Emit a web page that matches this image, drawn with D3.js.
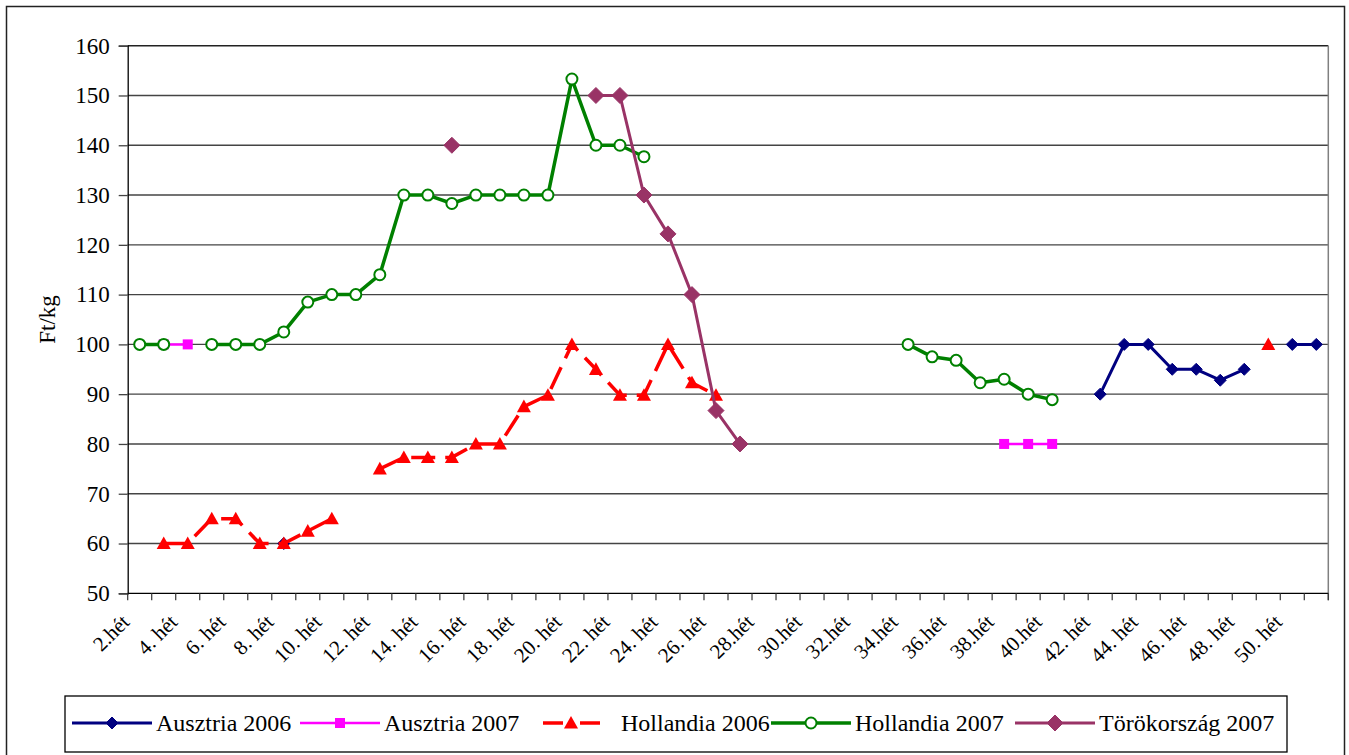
<!DOCTYPE html>
<html>
<head>
<meta charset="utf-8">
<script src="https://cdn.jsdelivr.net/npm/d3@7"></script>
<style>
  html, body { margin: 0; padding: 0; background: #fff; }
  svg { display: block; }
  text { font-family: "Liberation Serif", "Times New Roman", serif; fill: #000; }
</style>
</head>
<body>
<svg id="chart" width="1349" height="755"></svg>
<script>
// ---- data ----
const categories = [
  "2.hét","3.hét","4. hét","5. hét","6. hét","7. hét","8. hét","9. hét","10. hét","11. hét",
  "12. hét","13. hét","14. hét","15. hét","16. hét","17. hét","18. hét","19. hét","20. hét","21. hét",
  "22. hét","23. hét","24. hét","25. hét","26. hét","27. hét","28.hét","29.hét","30.hét","31.hét",
  "32.hét","33.hét","34.hét","35.hét","36.hét","37.hét","38.hét","39.hét","40.hét","41.hét",
  "42. hét","43. hét","44. hét","45. hét","46. hét","47. hét","48. hét","49. hét","50. hét","51. hét"
];
const yTicks = [50, 60, 70, 80, 90, 100, 110, 120, 130, 140, 150, 160];
const yTitle = "Ft/kg";

const ausztria2006 = [
  null,null,null,null,null,null,60,null,null,null,
  null,null,null,null,null,null,null,null,null,null,
  null,null,null,null,null,null,null,null,null,null,
  null,null,null,null,null,null,null,null,null,null,
  90,100,100,95,95,92.8,95,null,100,100
];
const ausztria2007 = [
  null,100,100,null,null,null,null,null,null,null,
  null,null,null,null,null,null,null,null,null,null,
  null,null,null,null,null,null,null,null,null,null,
  null,null,null,null,null,null,80,80,80,null,
  null,null,null,null,null,null,null,null,null,null
];
const hollandia2006 = [
  null,60,60,65,65,60,60,62.5,65,null,
  75,77.3,77.3,77.3,80,80,87.5,89.8,100,95,
  89.8,89.8,100,92.3,89.8,null,null,null,null,null,
  null,null,null,null,null,null,null,null,null,null,
  null,null,null,null,null,null,null,100,null,null
];
const hollandia2007 = [
  100,100,null,100,100,100,102.5,108.5,110,110,
  114,130,130,128.3,130,130,130,130,153.3,140,
  140,137.7,null,null,null,null,null,null,null,null,
  null,null,100,97.5,96.8,92.3,93,90,88.9,null,
  null,null,null,null,null,null,null,null,null,null
];
const torokorszag2007 = [
  null,null,null,null,null,null,null,null,null,null,
  null,null,null,140,null,null,null,null,null,150,
  150,130,122.2,110,86.7,80,null,null,null,null,
  null,null,null,null,null,null,null,null,null,null,
  null,null,null,null,null,null,null,null,null,null
];
const seriesNames = ["Ausztria 2006", "Ausztria 2007", " Hollandia 2006", "Hollandia 2007", "Törökország 2007"];

// ---- styles ----
const series = [
  { name: seriesNames[0], values: ausztria2006, color: "#000080", width: 3, dash: null, marker: "diamond", size: 12 },
  { name: seriesNames[1], values: ausztria2007, color: "#FF00FF", width: 2.5, dash: null, marker: "square", size: 10 },
  { name: seriesNames[2], values: hollandia2006, color: "#FF0000", width: 3.5, dash: "24,10", marker: "triangle", size: 14 },
  { name: seriesNames[3], values: hollandia2007, color: "#008000", width: 3.5, dash: null, marker: "circle", size: 13 },
  { name: seriesNames[4], values: torokorszag2007, color: "#993366", width: 3, dash: null, marker: "diamond", size: 16 }
];

const svg = d3.select("#chart");
const plot = { left: 127.7, right: 1328.3, top: 45.7, bottom: 593.3 };

// outer border
svg.append("rect").attr("x", 6.5).attr("y", 6.5).attr("width", 1338).attr("height", 760)
  .attr("fill", "#fff").attr("stroke", "#222").attr("stroke-width", 1.5);

const x = d3.scaleBand().domain(categories).range([plot.left, plot.right]).padding(0);
const y = d3.scaleLinear().domain([50, 160]).range([plot.bottom, plot.top]);
const cx = c => x(c) + x.bandwidth() / 2;

// gridlines
svg.append("g").selectAll("line").data(yTicks.filter(v => v > 50)).join("line")
  .attr("x1", plot.left).attr("x2", plot.right)
  .attr("y1", d => y(d)).attr("y2", d => y(d))
  .attr("stroke", d => d === 160 ? "#222" : "#444").attr("stroke-width", 1.4);

// right border of plot
svg.append("line").attr("x1", plot.right).attr("x2", plot.right)
  .attr("y1", plot.top).attr("y2", plot.bottom + 7)
  .attr("stroke", "#808080").attr("stroke-width", 1.5);

// y axis
const yAxis = d3.axisLeft(y).tickValues(yTicks).tickSize(9).tickPadding(9).tickFormat(d3.format("d"));
const gy = svg.append("g").attr("transform", `translate(${plot.left},0)`).call(yAxis);
gy.select(".domain").attr("stroke", "#000").attr("stroke-width", 1.3);
gy.selectAll(".tick line").attr("stroke", "#444").attr("stroke-width", 1.3);
gy.selectAll(".tick text").attr("font-size", 23).attr("font-family", "Liberation Serif, serif").attr("fill", "#000");

// x axis line and ticks (category boundaries)
svg.append("line").attr("x1", plot.left).attr("x2", plot.right)
  .attr("y1", plot.bottom).attr("y2", plot.bottom).attr("stroke", "#000").attr("stroke-width", 1.3);
const boundaries = categories.map(c => x(c)).concat([plot.right]);
svg.append("g").selectAll("line").data(boundaries).join("line")
  .attr("x1", d => d).attr("x2", d => d)
  .attr("y1", plot.bottom).attr("y2", plot.bottom + 7)
  .attr("stroke", "#333").attr("stroke-width", 1.2);

// x labels (every other)
svg.append("g").selectAll("text").data(categories.filter((c, i) => i % 2 === 0)).join("text")
  .attr("transform", d => `translate(${cx(d) - 9},${plot.bottom + 30}) rotate(-45)`)
  .attr("text-anchor", "end")
  .attr("font-size", 21)
  .text(d => d);

// y title
svg.append("text")
  .attr("transform", `translate(55,${(plot.top + plot.bottom) / 2}) rotate(-90)`)
  .attr("text-anchor", "middle").attr("font-size", 23).text(yTitle);

// marker drawing
function drawMarker(g, type, size, color) {
  const h = size / 2;
  if (type === "diamond") {
    g.append("path").attr("d", `M0,${-h}L${h},0L0,${h}L${-h},0Z`).attr("fill", color).attr("stroke", color).attr("stroke-width", 1);
  } else if (type === "square") {
    g.append("rect").attr("x", -h).attr("y", -h).attr("width", size).attr("height", size).attr("fill", color);
  } else if (type === "triangle") {
    g.append("path").attr("d", `M0,${-h}L${h},${h * 0.8}L${-h},${h * 0.8}Z`).attr("fill", color);
  } else if (type === "circle") {
    g.append("circle").attr("r", h - 1).attr("fill", "#fff").attr("stroke", color).attr("stroke-width", 2);
  }
}

const line = d3.line()
  .defined(d => d.v !== null)
  .x(d => cx(d.c))
  .y(d => y(d.v));

series.forEach(s => {
  const pts = categories.map((c, i) => ({ c, v: s.values[i] }));
  const g = svg.append("g");
  g.append("path").datum(pts).attr("d", line)
    .attr("fill", "none").attr("stroke", s.color).attr("stroke-width", s.width)
    .attr("stroke-linejoin", "round")
    .attr("stroke-dasharray", s.dash);
  pts.filter(p => p.v !== null).forEach(p => {
    const m = g.append("g").attr("transform", `translate(${cx(p.c)},${y(p.v)})`);
    drawMarker(m, s.marker, s.size, s.color);
  });
});

// legend
const legend = svg.append("g");
legend.append("rect").attr("x", 65).attr("y", 696).attr("width", 1222).attr("height", 56)
  .attr("fill", "#fff").attr("stroke", "#000").attr("stroke-width", 1.3);
const legendX = [72, 300, 531, 771, 1015];
const ly = 723;
series.forEach((s, i) => {
  const g = legend.append("g").attr("transform", `translate(${legendX[i]},${ly})`);
  g.append("line").attr("x1", 0).attr("x2", 80).attr("y1", 0).attr("y2", 0)
    .attr("stroke", s.color).attr("stroke-width", s.width)
    .attr("stroke-dasharray", s.dash ? "0,12,20,17,20,100" : null);
  const m = g.append("g").attr("transform", "translate(40,0)");
  drawMarker(m, s.marker, s.size, s.color);
  g.append("text").attr("x", 84).attr("y", 0).attr("dy", "0.35em")
    .attr("font-size", 24).attr("xml:space", "preserve").style("white-space", "pre").text(s.name);
});
</script>
</body>
</html>
